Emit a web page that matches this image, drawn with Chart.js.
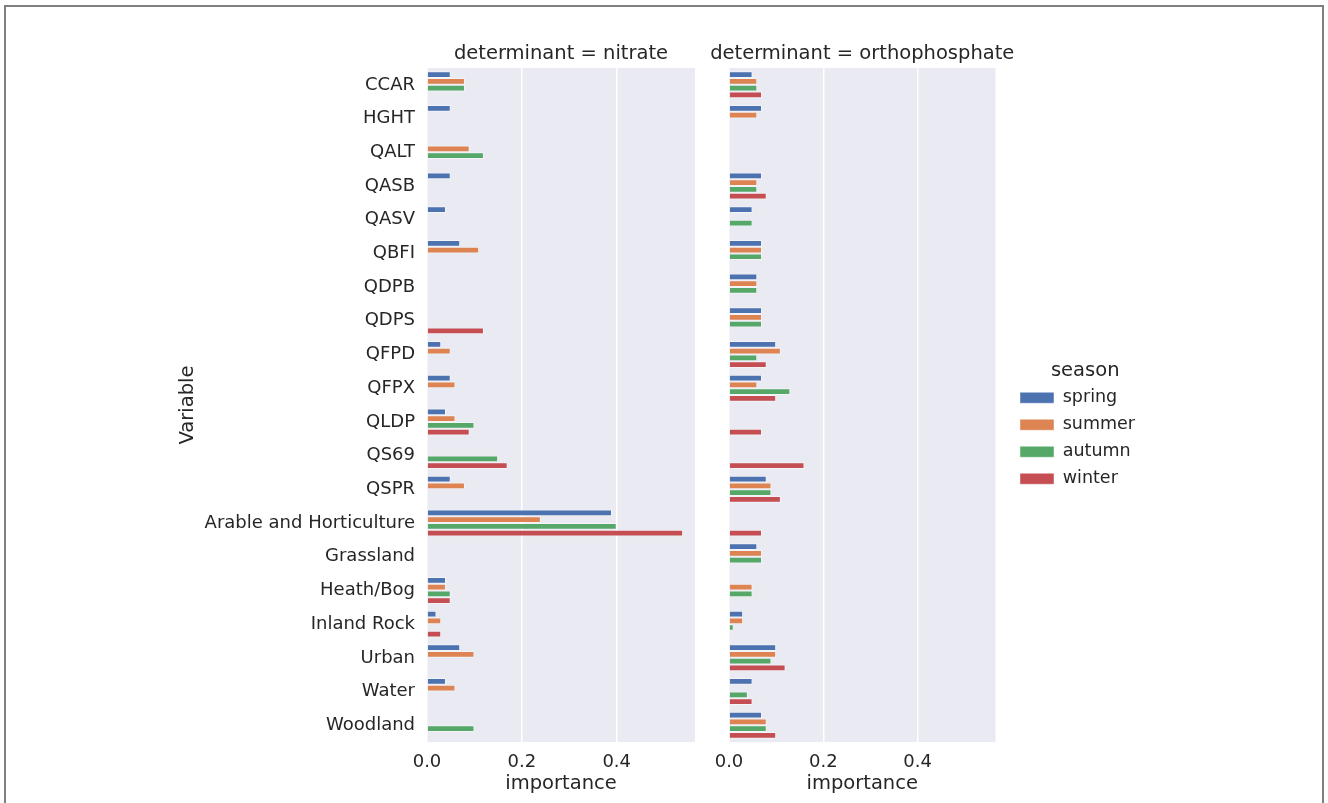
<!DOCTYPE html>
<html lang="en">
<head>
    <meta charset="UTF-8">
    <title>Variable importance by season</title>
    <script src="https://cdn.jsdelivr.net/npm/chart.js"></script>
    <style>
        html, body { margin: 0; background: #ffffff; overflow: hidden; }
        #frame {
            position: absolute; left: 4px; top: 5px; width: 1316px; height: 820px;
            border: 2px solid #808080; border-bottom: none;
        }
        #leftChart { position: absolute; left: 160px; top: 30px; }
        #rightChart { position: absolute; left: 700px; top: 30px; }
    </style>
</head>
<body>
    <div id="frame"></div>
    <canvas id="leftChart" width="540" height="772"></canvas>
    <canvas id="rightChart" width="460" height="772"></canvas>

    <script>
        const variables = ['CCAR', 'HGHT', 'QALT', 'QASB', 'QASV', 'QBFI', 'QDPB', 'QDPS', 'QFPD', 'QFPX',
            'QLDP', 'QS69', 'QSPR', 'Arable and Horticulture', 'Grassland', 'Heath/Bog', 'Inland Rock',
            'Urban', 'Water', 'Woodland'];
        const seasons = ['spring', 'summer', 'autumn', 'winter'];
        const seasonColors = ['#4C72B0', '#DD8452', '#55A868', '#C44E52'];
        const xTicks = [0, 0.2, 0.4];

        // nitrate
        const nitrateSpring = [0.05, 0.05, null, 0.05, 0.04, 0.07, null, null, 0.03, 0.05, 0.04, null, 0.05, 0.39, null, 0.04, 0.02, 0.07, 0.04, null];
        const nitrateSummer = [0.08, null, 0.09, null, null, 0.11, null, null, 0.05, 0.06, 0.06, null, 0.08, 0.24, null, 0.04, 0.03, 0.10, 0.06, null];
        const nitrateAutumn = [0.08, null, 0.12, null, null, null, null, null, null, null, 0.10, 0.15, null, 0.40, null, 0.05, null, null, null, 0.10];
        const nitrateWinter = [null, null, null, null, null, null, null, 0.12, null, null, 0.09, 0.17, null, 0.54, null, 0.05, 0.03, null, null, null];

        // orthophosphate
        const orthoSpring = [0.05, 0.07, null, 0.07, 0.05, 0.07, 0.06, 0.07, 0.10, 0.07, null, null, 0.08, null, 0.06, null, 0.03, 0.10, 0.05, 0.07];
        const orthoSummer = [0.06, 0.06, null, 0.06, null, 0.07, 0.06, 0.07, 0.11, 0.06, null, null, 0.09, null, 0.07, 0.05, 0.03, 0.10, null, 0.08];
        const orthoAutumn = [0.06, null, null, 0.06, 0.05, 0.07, 0.06, 0.07, 0.06, 0.13, null, null, 0.09, null, 0.07, 0.05, 0.01, 0.09, 0.04, 0.08];
        const orthoWinter = [0.07, null, null, 0.08, null, null, null, null, 0.08, 0.10, 0.07, 0.16, 0.11, 0.07, null, null, null, 0.12, 0.05, 0.10];

        const textColor = '#262626';
        const fontFamily = 'DejaVu Sans';

        const plotBackground = {
            id: 'plotBackground',
            beforeDraw(chart) {
                const { ctx, chartArea } = chart;
                ctx.save();
                ctx.fillStyle = '#EAEAF2';
                ctx.fillRect(chartArea.left, chartArea.top, chartArea.width, chartArea.height);
                ctx.restore();
            }
        };

        // facet title centred over the plot, allowed to be wider than it (Chart.js title would squeeze it)
        const panelTitle = {
            id: 'panelTitle',
            afterDraw(chart, args, opts) {
                const { ctx, chartArea } = chart;
                ctx.save();
                ctx.font = '19.5px "' + fontFamily + '"';
                ctx.fillStyle = textColor;
                ctx.textAlign = 'center';
                ctx.textBaseline = 'middle';
                ctx.fillText(opts.text, (chartArea.left + chartArea.right) / 2, chartArea.top - 14);
                ctx.restore();
            }
        };

        // widen the legend box by a gap on its left, so it sits further from the plot
        const legendGap = {
            id: 'legendGap',
            afterInit(chart) {
                const legend = chart.legend;
                const gap = 15;
                const fit = legend.fit.bind(legend);
                const draw = legend.draw.bind(legend);
                legend.fit = function () { fit(); this.width += gap; };
                legend.draw = function () {
                    chart.ctx.save();
                    chart.ctx.translate(gap, 0);
                    draw();
                    chart.ctx.restore();
                };
            }
        };

        function makeDatasets(series) {
            return series.map((values, i) => ({
                label: seasons[i],
                data: values,
                backgroundColor: seasonColors[i],
                borderColor: 'rgba(255, 255, 255, 0.45)',
                borderWidth: 1,
                categoryPercentage: 0.8,
                barPercentage: 1
            }));
        }

        function createPanel(canvasId, title, series, isLeft) {
            const ctx = document.getElementById(canvasId).getContext('2d');

            const yAxis = isLeft ? {
                afterFit(scale) { scale.width = 257; },
                ticks: {
                    color: textColor,
                    font: { family: fontFamily, size: 18 },
                    padding: 12
                },
                grid: { display: false, drawTicks: false },
                border: { display: false },
                title: {
                    display: true,
                    text: 'Variable',
                    color: textColor,
                    font: { family: fontFamily, size: 19.5 },
                    padding: { top: 6, bottom: 2 }
                }
            } : { display: false };

            return new Chart(ctx, {
                type: 'bar',
                data: {
                    labels: variables,
                    datasets: makeDatasets(series)
                },
                options: {
                    indexAxis: 'y',
                    responsive: false,
                    animation: false,
                    layout: {
                        padding: isLeft ? { left: 10, right: 5, top: 38, bottom: 0 } : { left: 29, right: 15, top: 38, bottom: 0 }
                    },
                    scales: {
                        x: {
                            min: 0,
                            max: 0.565,
                            afterBuildTicks(scale) {
                                scale.ticks = xTicks.map(v => ({ value: v }));
                            },
                            ticks: {
                                color: textColor,
                                font: { family: fontFamily, size: 18, lineHeight: 1 },
                                padding: 11,
                                callback: value => value.toFixed(1)
                            },
                            grid: { color: '#ffffff', lineWidth: 1.5, drawTicks: false },
                            border: { display: false },
                            title: {
                                display: true,
                                text: 'importance',
                                color: textColor,
                                font: { family: fontFamily, size: 19.5, lineHeight: 0.2 },
                                padding: { top: 0, bottom: 16 }
                            }
                        },
                        y: yAxis
                    },
                    plugins: {
                        panelTitle: { text: title },
                        tooltip: { enabled: false },
                        legend: {
                            display: !isLeft,
                            position: 'right',
                            align: 'center',
                            title: {
                                display: true,
                                text: 'season',
                                color: textColor,
                                font: { family: fontFamily, size: 19.5, lineHeight: 1 },
                                padding: { top: -12, bottom: -1 }
                            },
                            labels: {
                                color: textColor,
                                font: { family: fontFamily, size: 17.5 },
                                boxWidth: 34,
                                boxHeight: 11,
                                padding: 9.5
                            }
                        }
                    }
                },
                plugins: isLeft ? [plotBackground, panelTitle] : [plotBackground, panelTitle, legendGap]
            });
        }

        createPanel('leftChart', 'determinant = nitrate',
            [nitrateSpring, nitrateSummer, nitrateAutumn, nitrateWinter], true);
        createPanel('rightChart', 'determinant = orthophosphate',
            [orthoSpring, orthoSummer, orthoAutumn, orthoWinter], false);
    </script>
</body>
</html>
